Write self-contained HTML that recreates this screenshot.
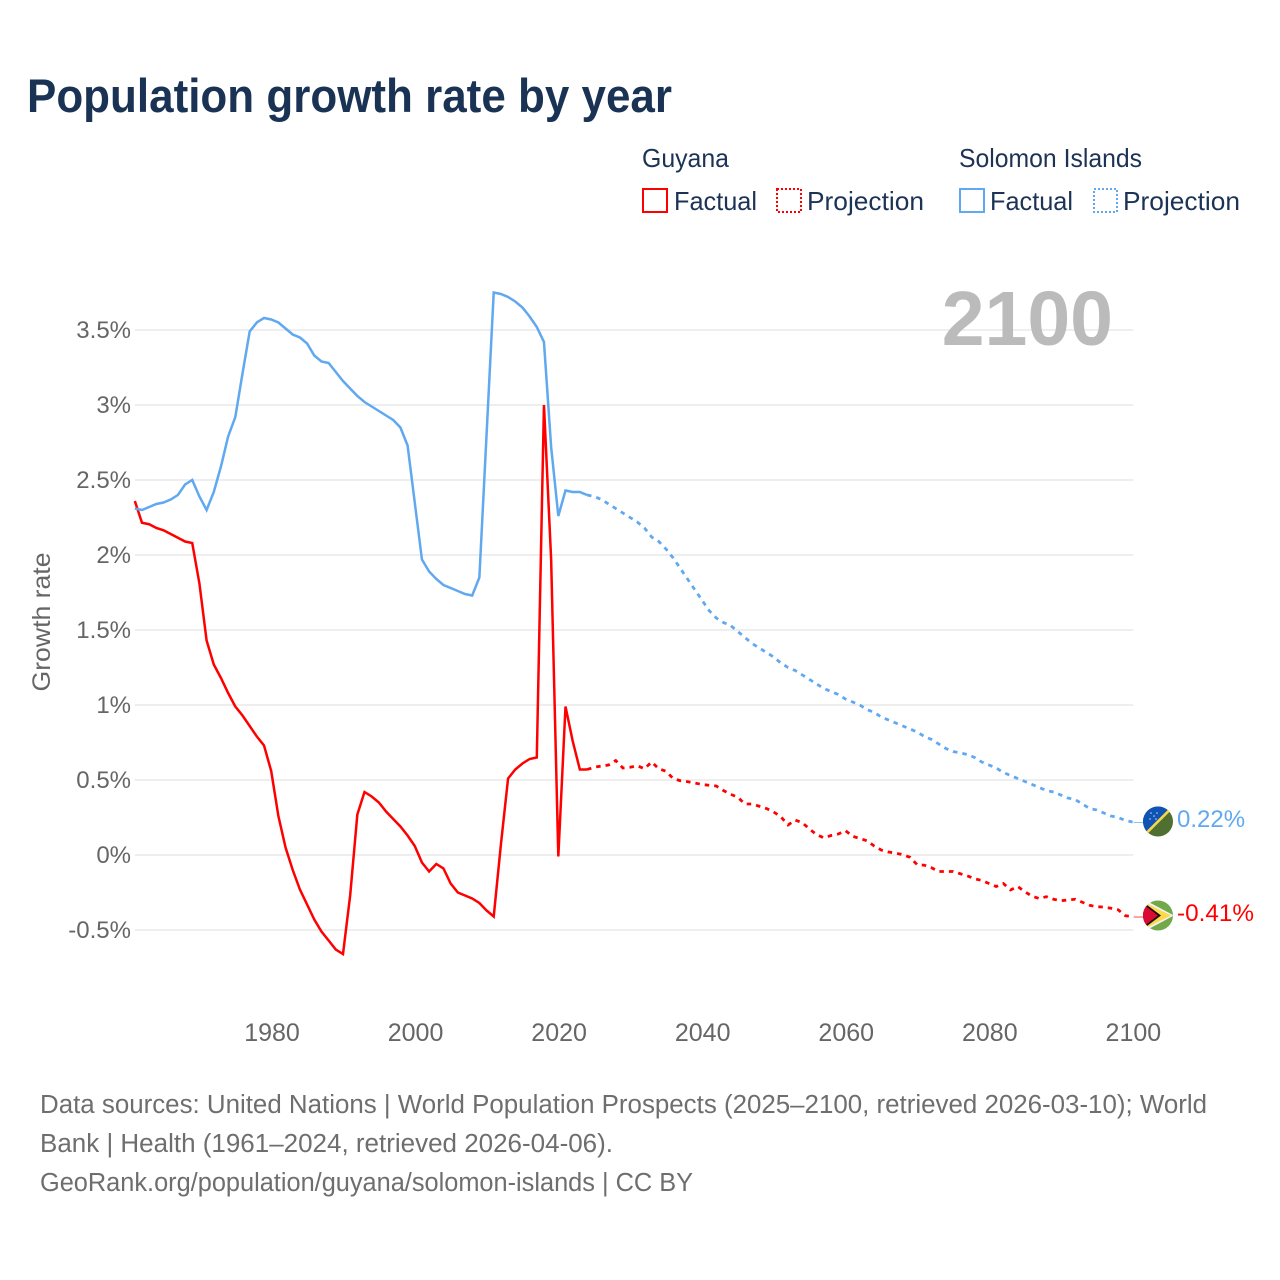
<!DOCTYPE html>
<html lang="en">
<head>
<meta charset="utf-8">
<title>Population growth rate by year</title>
<style>
  html, body { margin: 0; padding: 0; background: #fff; }
  svg { display: block; font-family: "Liberation Sans", Arial, sans-serif; }
</style>
</head>
<body>
<svg id="chart" width="1280" height="1280" viewBox="0 0 1280 1280" xmlns="http://www.w3.org/2000/svg">
  <defs>
    <clipPath id="flag-clip-sb"><circle cx="1158" cy="821.5" r="15"></circle></clipPath>
    <clipPath id="flag-clip-gy"><circle cx="1158" cy="915.5" r="15"></circle></clipPath>
  </defs>
  <rect x="0" y="0" width="1280" height="1280" fill="#ffffff"></rect>

  <text x="27" y="112" font-size="47" font-weight="700" fill="#1a3355" textLength="645" lengthAdjust="spacingAndGlyphs">Population growth rate by year</text>

  <g font-size="26" fill="#1c3355">
    <text x="642" y="167" textLength="87" lengthAdjust="spacingAndGlyphs">Guyana</text>
    <text x="959" y="167" textLength="183" lengthAdjust="spacingAndGlyphs">Solomon Islands</text>

    <rect x="643" y="189" width="24" height="23" fill="none" stroke="#ff0000" stroke-width="2"></rect>
    <text x="674" y="210" textLength="83" lengthAdjust="spacingAndGlyphs">Factual</text>
    <rect x="777" y="189" width="24" height="23" fill="none" stroke="#ff0000" stroke-width="2" stroke-dasharray="2 2"></rect>
    <text x="807" y="210" textLength="117" lengthAdjust="spacingAndGlyphs">Projection</text>

    <rect x="960" y="189" width="24" height="23" fill="none" stroke="#60a8f0" stroke-width="2"></rect>
    <text x="990" y="210" textLength="83" lengthAdjust="spacingAndGlyphs">Factual</text>
    <rect x="1094" y="189" width="23" height="23" fill="none" stroke="#60a8f0" stroke-width="2" stroke-dasharray="2 2"></rect>
    <text x="1123" y="210" textLength="117" lengthAdjust="spacingAndGlyphs">Projection</text>
  </g>

  <g id="grid"></g>
  <g id="y-ticks"></g>
  <g id="x-ticks"></g>

  <text transform="translate(50 622) rotate(-90)" text-anchor="middle" font-size="25" fill="#666666" textLength="139" lengthAdjust="spacingAndGlyphs">Growth rate</text>
  <text x="1113" y="345" text-anchor="end" font-size="77" font-weight="700" fill="#bbbbbb">2100</text>

  <g id="series"></g>

  <g clip-path="url(#flag-clip-sb)">
    <rect x="1143" y="806" width="30" height="31" fill="#4f7030"></rect>
    <polygon points="1143,806 1173,806 1143,837" fill="#0f54b4"></polygon>
    <line x1="1143" y1="836.5" x2="1173" y2="806.5" stroke="#f6d84a" stroke-width="2.6"></line>
    <g fill="#c8d8ee">
      <circle cx="1151" cy="813" r="0.8"></circle>
      <circle cx="1157" cy="813" r="0.8"></circle>
      <circle cx="1154" cy="816" r="0.8"></circle>
      <circle cx="1150" cy="819" r="0.8"></circle>
      <circle cx="1156" cy="819" r="0.8"></circle>
    </g>
  </g>
  <g clip-path="url(#flag-clip-gy)">
    <rect x="1143" y="900" width="30" height="31" fill="#72a84a"></rect>
    <polygon points="1143,899 1174,915.5 1143,932" fill="#f2f2f2"></polygon>
    <polygon points="1143,901.5 1171,915.5 1143,929.5" fill="#fcd84a"></polygon>
    <polygon points="1143,902 1161,915.5 1143,929" fill="#111111"></polygon>
    <polygon points="1143,904 1158,915.5 1143,927" fill="#dc0a32"></polygon>
  </g>

  <text x="1177" y="827" font-size="24" fill="#60a8f0">0.22%</text>
  <text x="1177" y="921" font-size="24" fill="#ff0000" textLength="77" lengthAdjust="spacingAndGlyphs">-0.41%</text>

  <g font-size="25.5" fill="#6e6e6e">
    <text x="40" y="1113" textLength="1167" lengthAdjust="spacingAndGlyphs">Data sources: United Nations | World Population Prospects (2025–2100, retrieved 2026-03-10); World</text>
    <text x="40" y="1152" textLength="573" lengthAdjust="spacingAndGlyphs">Bank | Health (1961–2024, retrieved 2026-04-06).</text>
    <text x="40" y="1191" textLength="653" lengthAdjust="spacingAndGlyphs">GeoRank.org/population/guyana/solomon-islands | CC BY</text>
  </g>
</svg>

<script>
const yTickValues = [-0.5, 0, 0.5, 1, 1.5, 2, 2.5, 3, 3.5];
const yTickLabels = ["-0.5%", "0%", "0.5%", "1%", "1.5%", "2%", "2.5%", "3%", "3.5%"];
const xTickValues = [1980, 2000, 2020, 2040, 2060, 2080, 2100];
const xTickLabels = ["1980", "2000", "2020", "2040", "2060", "2080", "2100"];

const factualStartYear = 1961;
const projectionStartYear = 2024;

const guyanaFactual = [
  2.36, 2.215, 2.205, 2.18, 2.165, 2.14, 2.115, 2.09, 2.08, 1.81,
  1.43, 1.27, 1.18, 1.08, 0.99, 0.93, 0.86, 0.79, 0.73, 0.56,
  0.26, 0.05, -0.10, -0.23, -0.33, -0.43, -0.51, -0.57, -0.63, -0.66,
  -0.27, 0.27, 0.42, 0.39, 0.35, 0.29, 0.24, 0.19, 0.13, 0.06,
  -0.05, -0.11, -0.06, -0.09, -0.19, -0.25, -0.27, -0.29, -0.32, -0.37,
  -0.41, 0.07, 0.51, 0.57, 0.61, 0.64, 0.65, 3.00, 1.97, -0.01,
  0.99, 0.76, 0.57, 0.57
];
const guyanaProjection = [
  0.57,
  0.585, 0.593, 0.60, 0.63, 0.58, 0.585, 0.595, 0.575, 0.62, 0.575,
  0.558, 0.51, 0.495, 0.489, 0.48, 0.47, 0.465, 0.46, 0.43, 0.405,
  0.385, 0.34, 0.34, 0.325, 0.31, 0.287, 0.255, 0.20, 0.233, 0.215,
  0.173, 0.135, 0.115, 0.13, 0.14, 0.162, 0.125, 0.11, 0.095, 0.06,
  0.033, 0.02, 0.012, 0.002, -0.015, -0.065, -0.068, -0.085, -0.11, -0.11,
  -0.11, -0.125, -0.14, -0.158, -0.17, -0.19, -0.21, -0.19, -0.233, -0.21,
  -0.245, -0.275, -0.29, -0.278, -0.295, -0.305, -0.30, -0.295, -0.315, -0.335,
  -0.345, -0.347, -0.355, -0.365, -0.405, -0.41
];
const solomonFactual = [
  2.31, 2.30, 2.32, 2.34, 2.35, 2.37, 2.40, 2.47, 2.50, 2.39,
  2.30, 2.42, 2.59, 2.79, 2.92, 3.21, 3.49, 3.55, 3.58, 3.57,
  3.55, 3.51, 3.47, 3.45, 3.41, 3.33, 3.29, 3.28, 3.22, 3.16,
  3.11, 3.06, 3.02, 2.99, 2.96, 2.93, 2.90, 2.85, 2.73, 2.35,
  1.97, 1.89, 1.84, 1.80, 1.78, 1.76, 1.74, 1.73, 1.85, 2.80,
  3.75, 3.74, 3.72, 3.69, 3.65, 3.59, 3.52, 3.42, 2.72, 2.26,
  2.43, 2.42, 2.42, 2.40
];
const solomonProjection = [
  2.40,
  2.39, 2.37, 2.34, 2.31, 2.28, 2.25, 2.22, 2.18, 2.12, 2.09,
  2.04, 1.98, 1.91, 1.84, 1.77, 1.70, 1.63, 1.58, 1.55, 1.53,
  1.49, 1.45, 1.41, 1.38, 1.35, 1.32, 1.28, 1.25, 1.23, 1.20,
  1.17, 1.14, 1.11, 1.09, 1.07, 1.04, 1.02, 1.00, 0.97, 0.95,
  0.92, 0.90, 0.88, 0.86, 0.84, 0.82, 0.79, 0.77, 0.74, 0.71,
  0.69, 0.68, 0.67, 0.65, 0.62, 0.60, 0.58, 0.55, 0.53, 0.51,
  0.49, 0.47, 0.45, 0.43, 0.42, 0.40, 0.38, 0.37, 0.34, 0.31,
  0.30, 0.28, 0.26, 0.25, 0.23, 0.22
];

const SVG_NS = "http://www.w3.org/2000/svg";
const RED = "#ff0000";
const BLUE = "#60a8f0";

function xScale(year) { return 271.2 + (year - 1980) * 7.178; }
function yScale(value) { return 855 - value * 150; }

function make(tag, attrs) {
  const el = document.createElementNS(SVG_NS, tag);
  for (const key in attrs) el.setAttribute(key, attrs[key]);
  return el;
}

function pathFrom(values, startYear) {
  return values.map(function (v, i) {
    return (i === 0 ? "M" : "L") + xScale(startYear + i).toFixed(2) + " " + yScale(v).toFixed(2);
  }).join(" ");
}

const gridGroup = document.getElementById("grid");
const yTickGroup = document.getElementById("y-ticks");
yTickValues.forEach(function (v, i) {
  const line = make("line", { x1: xScale(1961), x2: xScale(2100) + 0.6, y1: yScale(v), y2: yScale(v), stroke: "#e9e9e9", "stroke-width": 1.6 });
  
  
  gridGroup.appendChild(line);
  const label = make("text", { x: 131, y: yScale(v) + 8, "text-anchor": "end", "font-size": 24, fill: "#666666" });
  
  
  label.textContent = yTickLabels[i];
  yTickGroup.appendChild(label);
});

const xTickGroup = document.getElementById("x-ticks");
xTickValues.forEach(function (year, i) {
  const label = make("text", { x: xScale(year) + 0.8, y: 1041, "text-anchor": "middle", "font-size": 25, fill: "#666666" });
  
  
  label.textContent = xTickLabels[i];
  xTickGroup.appendChild(label);
});

const seriesGroup = document.getElementById("series");

const guyanaFactualLine = make("path", { d: pathFrom(guyanaFactual, factualStartYear), fill: "none", stroke: RED, "stroke-width": 2.5, "stroke-linejoin": "miter" });


seriesGroup.appendChild(guyanaFactualLine);

const guyanaProjectionLine = make("path", { d: pathFrom(guyanaProjection, projectionStartYear), fill: "none", stroke: RED, "stroke-width": 2.8, "stroke-dasharray": "4.5 5" });


seriesGroup.appendChild(guyanaProjectionLine);

const solomonFactualLine = make("path", { d: pathFrom(solomonFactual, factualStartYear), fill: "none", stroke: BLUE, "stroke-width": 2.5, "stroke-linejoin": "miter" });


seriesGroup.appendChild(solomonFactualLine);

const solomonProjectionLine = make("path", { d: pathFrom(solomonProjection, projectionStartYear), fill: "none", stroke: BLUE, "stroke-width": 2.8, "stroke-dasharray": "4.5 5" });


seriesGroup.appendChild(solomonProjectionLine);

const lastGuyana = guyanaProjection[guyanaProjection.length - 1];
const lastSolomon = solomonProjection[solomonProjection.length - 1];

const guyanaConnector = make("line", { x1: xScale(2100) + 1, x2: 1143, y1: yScale(lastGuyana) + 0.5, y2: yScale(lastGuyana) + 0.5, stroke: RED, "stroke-width": 1, opacity: 0.7 });


seriesGroup.appendChild(guyanaConnector);

const solomonConnector = make("line", { x1: xScale(2100) + 1, x2: 1143, y1: yScale(lastSolomon) + 0.5, y2: yScale(lastSolomon) + 0.5, stroke: BLUE, "stroke-width": 1, opacity: 0.7 });


seriesGroup.appendChild(solomonConnector);
</script>
</body>
</html>
